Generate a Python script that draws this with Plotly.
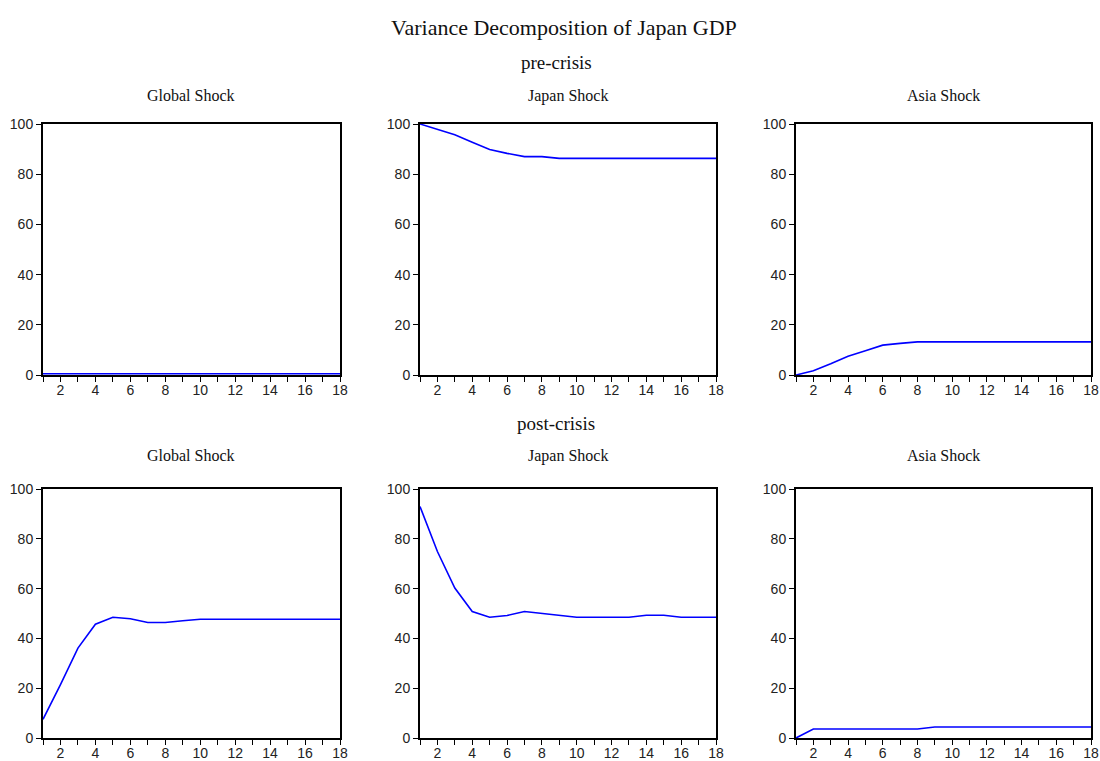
import plotly.graph_objects as go

# ---- data ----
horizons = list(range(1, 19))
panel_titles = ["Global Shock", "Japan Shock", "Asia Shock"]
period_titles = ["pre-crisis", "post-crisis"]
main_title = "Variance Decomposition of Japan GDP"

pre_global = [0.5, 0.5, 0.5, 0.5, 0.5, 0.5, 0.5, 0.5, 0.5, 0.5, 0.5, 0.5, 0.5, 0.5, 0.5, 0.5, 0.5, 0.5]
pre_japan = [100.0, 97.8, 95.7, 92.7, 89.8, 88.3, 87.0, 87.0, 86.3, 86.3, 86.3, 86.3, 86.3, 86.3, 86.3, 86.3, 86.3, 86.3]
pre_asia = [0.0, 1.7, 4.5, 7.5, 9.7, 11.9, 12.6, 13.2, 13.2, 13.2, 13.2, 13.2, 13.2, 13.2, 13.2, 13.2, 13.2, 13.2]

post_global = [7.5, 21.4, 36.1, 45.7, 48.5, 47.9, 46.4, 46.4, 47.1, 47.7, 47.7, 47.7, 47.7, 47.7, 47.7, 47.7, 47.7, 47.7]
post_japan = [93.0, 74.9, 60.2, 50.8, 48.5, 49.2, 50.8, 50.0, 49.3, 48.5, 48.5, 48.5, 48.5, 49.3, 49.3, 48.5, 48.5, 48.5]
post_asia = [0.0, 3.6, 3.6, 3.6, 3.6, 3.6, 3.6, 3.6, 4.4, 4.4, 4.4, 4.4, 4.4, 4.4, 4.4, 4.4, 4.4, 4.4]

y_ticks = [0, 20, 40, 60, 80, 100]
x_tick_labels = ["" if h % 2 else str(h) for h in horizons]

series = [[pre_global, pre_japan, pre_asia], [post_global, post_japan, post_asia]]

# ---- layout geometry (page pixels; body margin removed below) ----
W, H = 1100, 761
x_px = [(43, 340), (420, 716), (796, 1091)]
y_px = [(124, 375), (489, 738)]


def px_x(p):
    return p / W


def px_y(p):
    return 1 - p / H


serif = "Liberation Serif, Times New Roman, serif"
sans = "Liberation Sans, Arial, sans-serif"

fig = go.Figure()
layout = {}
annotations = []
k = 0
for r in range(2):
    for c in range(3):
        k += 1
        xa = "x" if k == 1 else f"x{k}"
        ya = "y" if k == 1 else f"y{k}"
        fig.add_trace(go.Scatter(
            x=horizons, y=series[r][c], mode="lines",
            line=dict(color="#0000ff", width=1.6),
            xaxis=xa, yaxis=ya, showlegend=False, hoverinfo="x+y"))
        xd = [px_x(x_px[c][0]), px_x(x_px[c][1])]
        yd = [px_y(y_px[r][1]), px_y(y_px[r][0])]
        layout["xaxis" if k == 1 else f"xaxis{k}"] = dict(
            domain=xd, anchor=ya, range=[1, 18], automargin=False,
            tickvals=horizons, ticktext=x_tick_labels,
            ticks="outside", ticklen=5, tickwidth=1.2, tickcolor="black",
            ticklabelstandoff=-4,
            showline=True, linecolor="black", linewidth=2, mirror=True,
            showgrid=False, zeroline=False,
            tickfont=dict(family=sans, size=14, color="#222"))
        layout["yaxis" if k == 1 else f"yaxis{k}"] = dict(
            domain=yd, anchor=xa, range=[0, 100], automargin=False,
            tickvals=y_ticks, ticks="outside", ticklen=5, tickwidth=1.2,
            tickcolor="black",
            showline=True, linecolor="black", linewidth=2, mirror=True,
            showgrid=False, zeroline=False,
            tickfont=dict(family=sans, size=14, color="#222"))
        annotations.append(dict(
            text=panel_titles[c], xref="paper", yref="paper",
            x=(xd[0] + xd[1]) / 2, y=px_y(96 if r == 0 else 456),
            xanchor="center", yanchor="middle", showarrow=False,
            font=dict(family=serif, size=16, color="#111")))

annotations.append(dict(text=main_title, xref="paper", yref="paper",
                        x=px_x(564), y=px_y(27), xanchor="center", yanchor="middle",
                        showarrow=False, font=dict(family=serif, size=22, color="#111")))
annotations.append(dict(text=period_titles[0], xref="paper", yref="paper",
                        x=px_x(556), y=px_y(62), xanchor="center", yanchor="middle",
                        showarrow=False, font=dict(family=serif, size=19, color="#111")))
annotations.append(dict(text=period_titles[1], xref="paper", yref="paper",
                        x=px_x(556), y=px_y(423), xanchor="center", yanchor="middle",
                        showarrow=False, font=dict(family=serif, size=19, color="#111")))

fig.update_layout(width=W, height=H, margin=dict(l=0, r=0, t=0, b=0),
                  paper_bgcolor="white", plot_bgcolor="white",
                  annotations=annotations, **layout)

fig.write_html("out.html",
               config={"displayModeBar": False},
               post_script="document.body.style.margin='0px';"
                           "document.body.style.overflow='hidden';")
